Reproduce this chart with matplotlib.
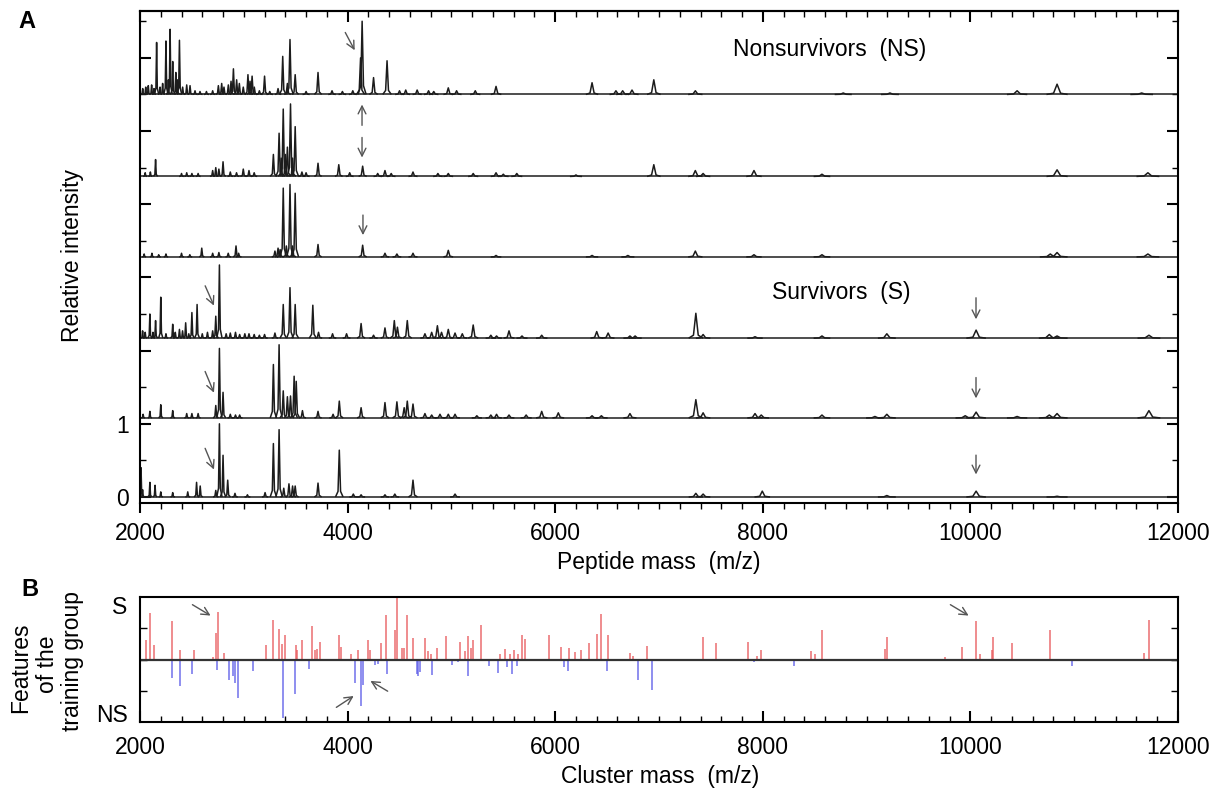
import matplotlib
matplotlib.use("Agg")
import matplotlib.pyplot as plt
from matplotlib.collections import LineCollection
from matplotlib.ticker import MultipleLocator
import numpy as np

plt.rcParams['font.family'] = ['Liberation Sans', 'DejaVu Sans']

# ---------------------------------------------------------------------------
# Panel A: peak lists (m/z, relative height) of the six spectra, top to bottom
# ---------------------------------------------------------------------------
ns1_mass = [2026, 2055, 2080, 2112, 2135, 2160, 2193, 2218, 2250, 2273, 2290, 2315,
            2345, 2360, 2380, 2411, 2450, 2482, 2530, 2578, 2640, 2700, 2755, 2787,
            2809, 2851, 2877, 2900, 2931, 2957, 2995, 3040, 3060, 3080, 3101, 3150,
            3200, 3250, 3330, 3375, 3420, 3445, 3495, 3600, 3715, 3850, 3950, 4050,
            4125, 4140, 4250, 4380, 4500, 4560, 4670, 4780, 4830, 4970, 5050, 5230,
            5430, 6355, 6585, 6650, 6740, 6950, 7350, 8775, 9225, 10450, 10835, 11650]
ns1_int = [0.08, 0.10, 0.12, 0.13, 0.08, 0.71, 0.10, 0.15, 0.73, 0.20, 0.89, 0.45,
           0.30, 0.20, 0.74, 0.10, 0.13, 0.12, 0.05, 0.04, 0.04, 0.05, 0.12, 0.15,
           0.10, 0.13, 0.18, 0.35, 0.20, 0.15, 0.10, 0.27, 0.18, 0.25, 0.10, 0.05,
           0.25, 0.04, 0.08, 0.52, 0.15, 0.75, 0.27, 0.04, 0.30, 0.05, 0.04, 0.05,
           0.50, 1.00, 0.23, 0.46, 0.05, 0.06, 0.06, 0.05, 0.04, 0.09, 0.05, 0.05,
           0.11, 0.16, 0.05, 0.05, 0.06, 0.20, 0.05, 0.02, 0.02, 0.05, 0.14, 0.02]

ns2_mass = [2050, 2100, 2150, 2400, 2450, 2500, 2560, 2700, 2730, 2760, 2800, 2870,
            2930, 2995, 3050, 3100, 3285, 3340, 3360, 3380, 3400, 3420, 3450, 3470,
            3495, 3560, 3600, 3715, 3915, 4020, 4145, 4290, 4360, 4420, 4630, 4870,
            4970, 5210, 5430, 5500, 5630, 6200, 6950, 7350, 7425, 7915, 8570, 10835,
            11710]
ns2_int = [0.05, 0.06, 0.23, 0.04, 0.05, 0.04, 0.04, 0.08, 0.12, 0.10, 0.20, 0.06,
           0.05, 0.10, 0.08, 0.05, 0.30, 0.59, 0.25, 0.92, 0.30, 0.40, 0.99, 0.25,
           0.68, 0.06, 0.05, 0.18, 0.16, 0.05, 0.14, 0.04, 0.08, 0.04, 0.06, 0.04,
           0.04, 0.04, 0.05, 0.03, 0.04, 0.02, 0.16, 0.08, 0.04, 0.08, 0.03, 0.09,
           0.05]

ns3_mass = [2040, 2115, 2180, 2250, 2400, 2480, 2595, 2700, 2760, 2850, 2925, 2950,
            3300, 3330, 3350, 3380, 3410, 3445, 3470, 3495, 3715, 4145, 4360, 4475,
            4630, 4970, 5430, 6355, 6700, 7350, 7915, 8570, 10770, 10835, 11710]
ns3_int = [0.04, 0.05, 0.03, 0.04, 0.05, 0.03, 0.12, 0.05, 0.06, 0.05, 0.15, 0.05,
           0.08, 0.12, 0.10, 0.94, 0.15, 0.99, 0.15, 0.87, 0.17, 0.16, 0.05, 0.04,
           0.05, 0.09, 0.02, 0.02, 0.02, 0.08, 0.03, 0.03, 0.04, 0.06, 0.04]

s4_mass = [2025, 2050, 2095, 2125, 2150, 2200, 2250, 2315, 2340, 2380, 2410, 2440,
           2470, 2500, 2550, 2600, 2650, 2700, 2730, 2765, 2830, 2870, 2920, 2960,
           3010, 3050, 3100, 3150, 3200, 3300, 3380, 3445, 3495, 3665, 3720, 3855,
           3990, 4130, 4250, 4360, 4450, 4480, 4575, 4745, 4810, 4865, 4905, 4970,
           5035, 5105, 5210, 5380, 5435, 5555, 5680, 5870, 6400, 6510, 6720, 6770,
           7355, 7425, 7925, 8570, 9195, 10055, 10760, 10835, 11720]
s4_int = [0.10, 0.08, 0.33, 0.08, 0.24, 0.56, 0.06, 0.19, 0.08, 0.12, 0.10, 0.21,
          0.06, 0.35, 0.46, 0.06, 0.08, 0.10, 0.30, 1.00, 0.06, 0.07, 0.08, 0.05,
          0.06, 0.06, 0.05, 0.04, 0.05, 0.07, 0.46, 0.69, 0.46, 0.45, 0.08, 0.06,
          0.06, 0.20, 0.04, 0.14, 0.24, 0.15, 0.24, 0.06, 0.08, 0.17, 0.08, 0.12,
          0.07, 0.06, 0.18, 0.04, 0.03, 0.10, 0.03, 0.04, 0.09, 0.07, 0.03, 0.03,
          0.34, 0.05, 0.02, 0.03, 0.06, 0.11, 0.05, 0.03, 0.04]

s5_mass = [2030, 2095, 2200, 2315, 2450, 2500, 2560, 2730, 2765, 2800, 2870, 2920,
           2960, 3285, 3340, 3380, 3420, 3450, 3485, 3505, 3565, 3715, 3860, 3920,
           4130, 4360, 4475, 4545, 4575, 4630, 4745, 4810, 4890, 4970, 5035, 5245,
           5380, 5435, 5555, 5720, 5870, 6030, 6355, 6445, 6720, 7355, 7425, 7925,
           7985, 8570, 9080, 9195, 9950, 10055, 10450, 10760, 10835, 11720]
s5_int = [0.05, 0.09, 0.18, 0.10, 0.06, 0.06, 0.06, 0.17, 0.95, 0.35, 0.05, 0.04,
          0.04, 0.73, 1.00, 0.37, 0.29, 0.30, 0.57, 0.50, 0.10, 0.09, 0.05, 0.23,
          0.14, 0.21, 0.22, 0.14, 0.23, 0.19, 0.06, 0.04, 0.05, 0.05, 0.05, 0.03,
          0.04, 0.05, 0.04, 0.04, 0.09, 0.07, 0.03, 0.03, 0.06, 0.25, 0.07, 0.06,
          0.04, 0.04, 0.02, 0.05, 0.03, 0.08, 0.02, 0.04, 0.06, 0.10]

s6_mass = [2010, 2025, 2095, 2145, 2200, 2315, 2460, 2545, 2580, 2730, 2765, 2800,
           2845, 2915, 3035, 3205, 3285, 3340, 3385, 3435, 3470, 3495, 3715, 3920,
           4055, 4130, 4360, 4455, 4630, 5035, 7355, 7425, 7995, 9195, 10055, 10835]
s6_int = [0.40, 0.10, 0.20, 0.16, 0.07, 0.06, 0.07, 0.20, 0.15, 0.09, 1.00, 0.57,
          0.23, 0.05, 0.03, 0.06, 0.73, 0.92, 0.12, 0.18, 0.15, 0.15, 0.19, 0.64,
          0.04, 0.03, 0.03, 0.04, 0.23, 0.04, 0.05, 0.04, 0.08, 0.02, 0.08, 0.01]

spectra = [(ns1_mass, ns1_int), (ns2_mass, ns2_int), (ns3_mass, ns3_int),
           (s4_mass, s4_int), (s5_mass, s5_int), (s6_mass, s6_int)]
offsets = [5.50, 4.38, 3.28, 2.17, 1.08, 0.0]

# ---------------------------------------------------------------------------
# Panel B: cluster features (red = survivors, blue = nonsurvivors)
# ---------------------------------------------------------------------------
s_mass = [2055, 2095, 2135, 2310, 2385, 2520, 2705, 2730, 2750, 2810, 3210, 3285,
          3335, 3365, 3395, 3500, 3515, 3565, 3660, 3690, 3705, 3735, 3915, 3935,
          4030, 4100, 4195, 4215, 4320, 4370, 4455, 4475, 4525, 4545, 4575, 4630,
          4745, 4775, 4800, 4865, 4945, 5085, 5130, 5160, 5185, 5210, 5285, 5470,
          5515, 5565, 5605, 5640, 5680, 5710, 5940, 6055, 6135, 6190, 6250, 6325,
          6400, 6440, 6510, 6720, 6750, 6885, 7425, 7550, 7860, 7940, 7985, 8465,
          8505, 8575, 9175, 9195, 9755, 9920, 10055, 10095, 10205, 10220, 10400,
          10765, 11670, 11720]
s_score = [0.31, 0.74, 0.24, 0.61, 0.16, 0.15, 0.04, 0.42, 0.76, 0.10, 0.23, 0.63,
           0.49, 0.25, 0.39, 0.23, 0.16, 0.31, 0.54, 0.15, 0.17, 0.28, 0.39, 0.20,
           0.09, 0.16, 0.31, 0.15, 0.26, 0.72, 0.47, 0.99, 0.19, 0.19, 0.71, 0.35,
           0.35, 0.13, 0.09, 0.19, 0.38, 0.28, 0.13, 0.38, 0.19, 0.32, 0.56, 0.09,
           0.17, 0.09, 0.15, 0.09, 0.39, 0.33, 0.40, 0.20, 0.19, 0.12, 0.16, 0.27,
           0.41, 0.73, 0.39, 0.11, 0.06, 0.22, 0.36, 0.26, 0.28, 0.06, 0.16, 0.13,
           0.09, 0.48, 0.17, 0.36, 0.04, 0.20, 0.61, 0.09, 0.15, 0.36, 0.27,
           0.47, 0.10, 0.63]

ns_mass = [2310, 2390, 2500, 2740, 2855, 2900, 2915, 2945, 3090, 3380, 3495, 3630,
           4070, 4130, 4145, 4260, 4290, 4375, 4435, 4665, 4680, 4695, 4815, 5010,
           5065, 5160, 5250, 5365, 5450, 5535, 5585, 5630, 6085, 6120, 6500, 6800,
           6930, 7915, 8300, 10980]
ns_score = [-0.30, -0.42, -0.23, -0.17, -0.33, -0.26, -0.37, -0.61, -0.18, -0.93,
            -0.55, -0.15, -0.37, -0.74, -0.40, -0.08, -0.07, -0.23, -0.02, -0.23,
            -0.26, -0.20, -0.24, -0.08, -0.04, -0.26, -0.03, -0.11, -0.22, -0.12,
            -0.23, -0.11, -0.12, -0.19, -0.19, -0.33, -0.49, -0.04, -0.10, -0.10]

W, H = 1215, 788
FS = 16.5
fig = plt.figure(figsize=(W / 100, H / 100), dpi=100)


def px(x0, y0, x1, y1):
    return [x0 / W, 1 - y1 / H, (x1 - x0) / W, (y1 - y0) / H]


# ---------------- panel A ----------------
ax = fig.add_axes(px(140, 11, 1178, 503))
ax.set_xlim(2000, 12000)
ax.set_ylim(-0.082, 6.64)

segs = []
for (mass, inten), off in zip(spectra, offsets):
    segs.append([(2000, off), (12000, off)])
    for m, h in zip(mass, inten):
        w = m / 320.0
        segs.append([(m - 3 * w, off), (m - w, off + 0.12 * h), (m, off + h),
                     (m + w, off + 0.12 * h), (m + 3 * w, off)])
ax.add_collection(LineCollection(segs, colors='#1c1c1c', linewidths=1.1))

ax.set_yticks(range(7))
ax.set_yticklabels(['0', '1', '', '', '', '', ''])
ax.yaxis.set_minor_locator(MultipleLocator(0.5))
ax.xaxis.set_major_locator(MultipleLocator(2000))
ax.xaxis.set_minor_locator(MultipleLocator(200))
ax.tick_params(axis='y', which='both', direction='in', left=True, right=True,
               labelsize=FS, pad=8)
ax.tick_params(axis='y', which='major', length=8, width=1.5)
ax.tick_params(axis='y', which='minor', length=4.5, width=1)
ax.tick_params(axis='x', which='both', direction='out', labelsize=FS, pad=7)
ax.tick_params(axis='x', which='major', length=7, width=1.5)
ax.tick_params(axis='x', which='minor', length=4, width=1)
top = ax.secondary_xaxis('top')
top.xaxis.set_major_locator(MultipleLocator(2000))
top.xaxis.set_minor_locator(MultipleLocator(200))
top.tick_params(which='both', direction='in', labeltop=False)
top.tick_params(which='major', length=8, width=1.5)
top.tick_params(which='minor', length=4.5, width=1)
for sp in list(ax.spines.values()) + list(top.spines.values()):
    sp.set_linewidth(1.5)

ax.text(7713, 6.12, 'Nonsurvivors  (NS)', fontsize=FS, va='center')
ax.text(8089, 2.80, 'Survivors  (S)', fontsize=FS, va='center')

arrow = dict(arrowstyle='->', color='#555555', lw=1.0, mutation_scale=14)
arrows_a = [((3965, 6.38), (4081, 6.07)),
            ((4139, 5.04), (4139, 5.40)),
            ((4139, 4.95), (4139, 4.60)),
            ((4148, 3.89), (4148, 3.54)),
            ((2617, 2.92), (2723, 2.58)),
            ((2617, 1.75), (2723, 1.39)),
            ((2617, 0.70), (2723, 0.34)),
            ((10054, 2.76), (10054, 2.39)),
            ((10054, 1.67), (10054, 1.31)),
            ((10054, 0.61), (10054, 0.27))]
for tail, head in arrows_a:
    ax.annotate('', xy=head, xytext=tail, arrowprops=arrow)

# ---------------- panel B ----------------
bx = fig.add_axes(px(140, 597, 1178, 722))
bx.set_xlim(2000, 12000)
bx.set_ylim(-1, 1)
bx.vlines(s_mass, 0, s_score, colors='#e8585a', linewidth=1.2, alpha=0.8)
bx.vlines(ns_mass, 0, ns_score, colors='#5a5ae8', linewidth=1.2, alpha=0.8)
bx.axhline(0, color='#333333', lw=1.6)
bx.set_yticks([-0.5, 0, 0.5])
bx.set_yticklabels([])
bx.xaxis.set_major_locator(MultipleLocator(2000))
bx.xaxis.set_minor_locator(MultipleLocator(200))
bx.tick_params(axis='y', direction='in', left=True, right=True, length=5, width=1)
bx.tick_params(axis='x', which='both', direction='in', labelsize=FS, pad=10)
bx.tick_params(axis='x', which='major', length=8, width=1.5)
bx.tick_params(axis='x', which='minor', length=4.5, width=1)
for sp in bx.spines.values():
    sp.set_linewidth(1.5)
bx.text(-0.012, 0.84, 'S', transform=bx.get_yaxis_transform(), ha='right',
        va='center', fontsize=FS)
bx.text(-0.012, -0.90, 'NS', transform=bx.get_yaxis_transform(), ha='right',
        va='center', fontsize=FS)

arrows_b = [((2482, 0.90), (2703, 0.68)),
            ((4409, -0.53), (4197, -0.32)),
            ((3869, -0.79), (4081, -0.56)),
            ((9784, 0.90), (10006, 0.68))]
for tail, head in arrows_b:
    bx.annotate('', xy=head, xytext=tail, arrowprops=arrow)

# ---------------- labels ----------------
fig.text(659 / W, 1 - 563 / H, 'Peptide mass  (m/z)', ha='center', va='center',
         fontsize=FS)
fig.text(660 / W, 1 - 777 / H, 'Cluster mass  (m/z)', ha='center', va='center',
         fontsize=FS)
fig.text(73 / W, 1 - 255 / H, 'Relative intensity', rotation=90, ha='center',
         va='center', fontsize=FS)
for xp, yp, line in [(21, 668, 'Features'), (47, 664, 'of the'),
                     (72, 661, 'training group')]:
    fig.text(xp / W, 1 - yp / H, line, rotation=90, ha='center', va='center',
             fontsize=FS)
fig.text(27 / W, 1 - 21 / H, 'A', ha='center', va='center', fontsize=17,
         fontweight='bold')
fig.text(30 / W, 1 - 589 / H, 'B', ha='center', va='center', fontsize=17,
         fontweight='bold')

fig.savefig('out.png', dpi=100)
